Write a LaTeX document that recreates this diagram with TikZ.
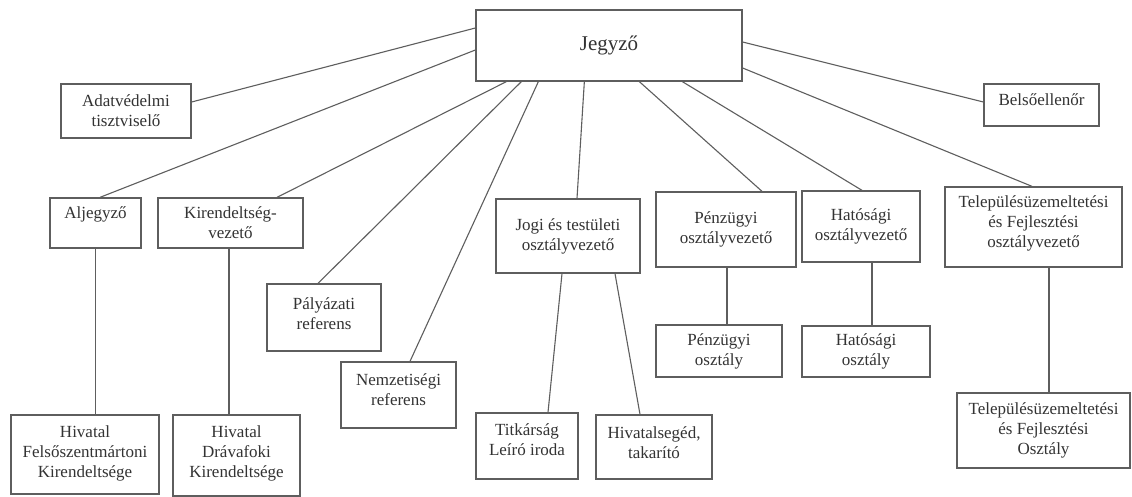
\documentclass[tikz,border=0pt]{standalone}
\usepackage{fontspec}
\setmainfont{Liberation Serif}
\definecolor{linegray}{HTML}{5E5E5E}
\definecolor{textgray}{HTML}{333333}
\tikzset{
  orgbox/.style={draw=linegray, line width=1.3pt, align=center, inner sep=0pt,
    text=textgray, font=\fontsize{17}{20}\selectfont},
  conn/.style={draw=linegray, line width=1.1pt}
}
\begin{document}
\begin{tikzpicture}[x=1pt,y=1pt]
\useasboundingbox[fill=white] (0,0) rectangle (1132,-497);
% boxes
\node[orgbox, minimum width=266pt, minimum height=71pt, font=\fontsize{21}{24}\selectfont] (jegyzo) at (609,-45.5) {Jegyző};
\node[orgbox, minimum width=130pt, minimum height=54pt] (adat) at (126,-111) {Adatvédelmi\\tisztviselő};
\node[orgbox, minimum width=115pt, minimum height=42pt] (belso) at (1041.5,-105) {Belsőellenőr\\[-10pt]};
\node[orgbox, minimum width=91pt, minimum height=50pt] (alj) at (95.5,-223) {Aljegyző\\\mbox{}};
\node[orgbox, minimum width=145pt, minimum height=50pt] (kir) at (230.5,-223) {Kirendeltség-\\vezető};
\node[orgbox, minimum width=144pt, minimum height=74pt] (jogi) at (568,-236) {Jogi és testületi\\osztályvezető};
\node[orgbox, minimum width=140pt, minimum height=75pt] (pv) at (726,-229.5) {Pénzügyi\\osztályvezető};
\node[orgbox, minimum width=118pt, minimum height=71pt] (hv) at (861,-226.5) {Hatósági\\osztályvezető};
\node[orgbox, minimum width=177pt, minimum height=80pt] (tv) at (1033.5,-227) {Településüzemeltetési\\és Fejlesztési\\osztályvezető\\[-10pt]};
\node[orgbox, minimum width=114pt, minimum height=67pt] (paly) at (324,-317.5) {Pályázati\\referens\\[-12pt]};
\node[orgbox, minimum width=115pt, minimum height=66pt] (nemz) at (398.5,-395) {Nemzetiségi\\referens\\[-10pt]};
\node[orgbox, minimum width=148pt, minimum height=79pt] (felso) at (85,-454.5) {Hivatal\\Felsőszentmártoni\\Kirendeltsége\\[-15pt]};
\node[orgbox, minimum width=127pt, minimum height=81pt] (drava) at (236.5,-455.5) {Hivatal\\Drávafoki\\Kirendeltsége\\[-12pt]};
\node[orgbox, minimum width=102pt, minimum height=66pt] (titk) at (527,-446) {Titkárság\\Leíró iroda\\[-8pt]};
\node[orgbox, minimum width=116pt, minimum height=64pt] (hs) at (654,-447) {Hivatalsegéd,\\takarító\\[-11pt]};
\node[orgbox, minimum width=126pt, minimum height=52pt] (po) at (719,-351) {Pénzügyi\\osztály};
\node[orgbox, minimum width=128pt, minimum height=51pt] (ho) at (866,-351.5) {Hatósági\\osztály};
\node[orgbox, minimum width=173pt, minimum height=75pt] (to) at (1043.5,-430.5) {Településüzemeltetési\\és Fejlesztési\\Osztály};
% connectors from Jegyző
\draw[conn] ([yshift=17.5pt]jegyzo.west) -- ([yshift=9pt]adat.east);
\draw[conn] ([yshift=-4.5pt]jegyzo.west) -- ([xshift=4.5pt]alj.north);
\draw[conn] ([xshift=31pt]jegyzo.south west) -- ([xshift=46.5pt]kir.north);
\draw[conn] ([xshift=46pt]jegyzo.south west) -- ([xshift=-6pt]paly.north);
\draw[conn] ([xshift=63pt]jegyzo.south west) -- ([xshift=11.5pt]nemz.north);
\draw[conn] ([xshift=109pt]jegyzo.south west) -- ([xshift=9pt]jogi.north);
\draw[conn] ([xshift=164pt]jegyzo.south west) -- ([xshift=36pt]pv.north);
\draw[conn] ([xshift=207pt]jegyzo.south west) -- ([xshift=1pt]hv.north);
\draw[conn] ([yshift=3.5pt]jegyzo.east) -- ([yshift=3pt]belso.west);
\draw[conn] ([yshift=-22.5pt]jegyzo.east) -- ([xshift=-1.5pt]tv.north);
% second level
\draw[conn] (alj.south) -- (alj.south |- felso.north);
\draw[conn] ([xshift=-1.5pt]kir.south) -- ([xshift=-1.5pt]kir.south |- drava.north);
\draw[conn] ([xshift=-6pt]jogi.south) -- ([xshift=21pt]titk.north);
\draw[conn] ([xshift=47pt]jogi.south) -- ([xshift=-14pt]hs.north);
\draw[conn] ([xshift=1pt]pv.south) -- ([xshift=1pt]pv.south |- po.north);
\draw[conn] ([xshift=11pt]hv.south) -- ([xshift=11pt]hv.south |- ho.north);
\draw[conn] ([xshift=15.5pt]tv.south) -- ([xshift=15.5pt]tv.south |- to.north);
\end{tikzpicture}
\end{document}
